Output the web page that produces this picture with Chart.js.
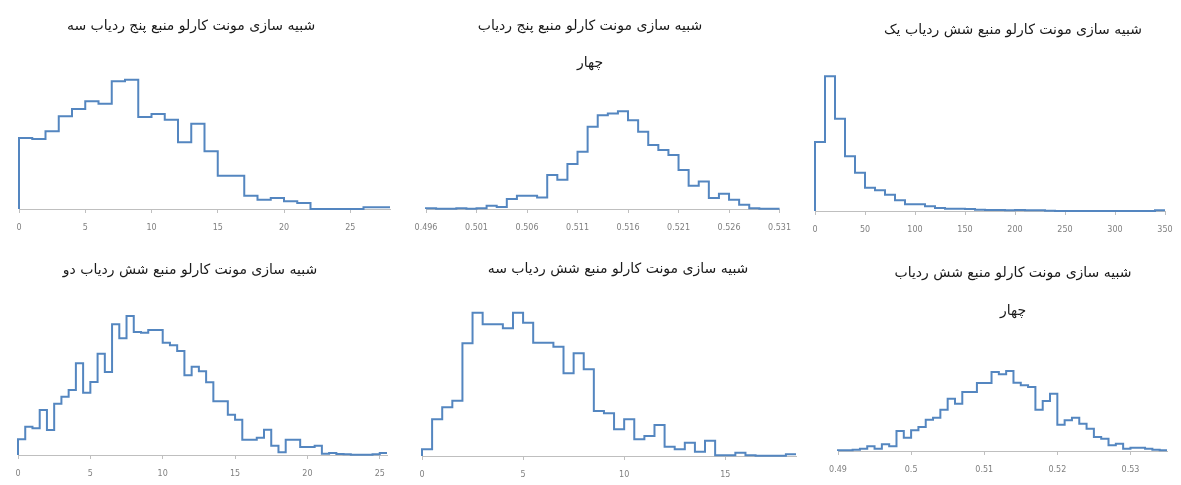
<!DOCTYPE html>
<html lang="fa">
<head>
<meta charset="utf-8">
<script src="https://cdn.jsdelivr.net/npm/chart.js@4.4.0/dist/chart.umd.min.js"></script>
<style>
  html, body { margin: 0; padding: 0; background: #fff; }
  body { width: 1181px; height: 485px; position: relative; overflow: hidden; }
  canvas { position: absolute; }
</style>
</head>
<body>
<script>
// ---- titles ----
const titleS5D3 = 'شبیه سازی مونت کارلو منبع پنج ردیاب سه';
const titleS5D4 = ['شبیه سازی مونت کارلو منبع پنج ردیاب', 'چهار'];
const titleS6D1 = 'شبیه سازی مونت کارلو منبع شش ردیاب یک';
const titleS6D2 = 'شبیه سازی مونت کارلو منبع شش ردیاب دو';
const titleS6D3 = 'شبیه سازی مونت کارلو منبع شش ردیاب سه';
const titleS6D4 = ['شبیه سازی مونت کارلو منبع شش ردیاب', 'چهار'];

// ---- histogram bins (first edge, bin width, counts) ----
const s5d3Start = 0, s5d3Width = 1;
const s5d3Counts = [213, 210, 233, 278, 300, 323, 316, 383, 388, 276, 285, 268, 200, 256,
  173, 100, 100, 40, 28, 33, 23, 18, 0, 0, 0, 0, 5, 5];
const s5d3Ticks = [0, 5, 10, 15, 20, 25];
const s5d3TickLabels = ['0', '5', '10', '15', '20', '25'];

const s5d4Start = 0.496, s5d4Width = 0.001;
const s5d4Counts = [2, 1, 1, 2, 1, 2, 10, 6, 30, 40, 40, 35, 103, 88, 136, 173, 248, 283,
  288, 295, 268, 233, 193, 178, 163, 118, 70, 83, 33, 46, 28, 13, 2, 1, 1];
const s5d4Ticks = [0.496, 0.501, 0.506, 0.511, 0.516, 0.521, 0.526, 0.531];
const s5d4TickLabels = ['0.496', '0.501', '0.506', '0.511', '0.516', '0.521', '0.526', '0.531'];

const s6d1Start = 0, s6d1Width = 10;
const s6d1Counts = [207, 404, 277, 164, 115, 70, 62, 49, 32, 20, 20, 14, 9, 7, 7, 6, 4, 3,
  3, 2, 3, 2, 2, 1, 0, 0, 0, 0, 0, 0, 0, 0, 0, 0, 2];
const s6d1Ticks = [0, 50, 100, 150, 200, 250, 300, 350];
const s6d1TickLabels = ['0', '50', '100', '150', '200', '250', '300', '350'];

const s6d2Start = 0, s6d2Width = 0.5;
const s6d2Counts = [47, 85, 80, 135, 75, 154, 175, 195, 275, 187, 219, 304, 249, 392, 350,
  417, 369, 367, 375, 375, 337, 329, 312, 239, 265, 251, 218, 161, 161, 121, 106, 46, 46,
  52, 76, 28, 8, 46, 46, 24, 24, 28, 4, 6, 3, 2, 1, 1, 1, 2, 6];
const s6d2Ticks = [0, 5, 10, 15, 20, 25];
const s6d2TickLabels = ['0', '5', '10', '15', '20', '25'];

const s6d3Start = 0, s6d3Width = 0.5;
const s6d3Counts = [20, 110, 146, 166, 338, 430, 395, 395, 383, 430, 400, 340, 340, 328,
  248, 308, 260, 135, 128, 80, 110, 50, 60, 93, 28, 20, 40, 13, 46, 2, 2, 10, 2, 1, 1, 1, 5];
const s6d3Ticks = [0, 5, 10, 15];
const s6d3TickLabels = ['0', '5', '10', '15'];

const s6d4Start = 0.49, s6d4Width = 0.001;
const s6d4Counts = [2, 2, 4, 7, 14, 7, 20, 14, 60, 40, 62, 72, 94, 100, 124, 157, 142, 177,
  177, 204, 204, 237, 230, 240, 205, 197, 192, 124, 150, 172, 79, 92, 100, 82, 67, 42, 37,
  17, 22, 7, 10, 10, 7, 4, 2];
const s6d4Ticks = [0.49, 0.5, 0.51, 0.52, 0.53];
const s6d4TickLabels = ['0.49', '0.5', '0.51', '0.52', '0.53'];

const LINE_COLOR = '#5486c0';
const AXIS_COLOR = '#bfbfbf';
const FONT = "'DejaVu Sans', sans-serif";

// outline of a histogram: corner points walked from the bin edges
function outline(start, width, counts) {
    const pts = [{ x: start, y: 0 }];
    counts.forEach((c, i) => {
        pts.push({ x: start + width * i, y: c });
        pts.push({ x: start + width * (i + 1), y: c });
    });
    return pts;
}

// panel placement in the page (px)
const panels = [
    { title: titleS5D3, start: s5d3Start, width: s5d3Width, counts: s5d3Counts, ticks: s5d3Ticks, labels: s5d3TickLabels,
      left: 19, right: 390, top: 69, base: 209, yMax: 420, titleY: 26, lh: 20, titleX: 191 },
    { title: titleS5D4, start: s5d4Start, width: s5d4Width, counts: s5d4Counts, ticks: s5d4Ticks, labels: s5d4TickLabels,
      left: 426, right: 781, top: 76, base: 209, yMax: 400, titleY: 26, lh: 37, titleX: 590 },
    { title: titleS6D1, start: s6d1Start, width: s6d1Width, counts: s6d1Counts, ticks: s6d1Ticks, labels: s6d1TickLabels,
      left: 815, right: 1165, top: 61, base: 211, yMax: 450, titleY: 30, lh: 20, titleX: 1013 },
    { title: titleS6D2, start: s6d2Start, width: s6d2Width, counts: s6d2Counts, ticks: s6d2Ticks, labels: s6d2TickLabels,
      left: 18, right: 387, top: 305, base: 455, yMax: 450, titleY: 270, lh: 20, titleX: 190 },
    { title: titleS6D3, start: s6d3Start, width: s6d3Width, counts: s6d3Counts, ticks: s6d3Ticks, labels: s6d3TickLabels,
      left: 422, right: 796, top: 303, base: 456, yMax: 459, titleY: 269, lh: 20, titleX: 618 },
    { title: titleS6D4, start: s6d4Start, width: s6d4Width, counts: s6d4Counts, ticks: s6d4Ticks, labels: s6d4TickLabels,
      left: 838, right: 1167, top: 324, base: 451, yMax: 381, titleY: 273, lh: 38, titleX: 1013 }
];

function drawPanel(p) {
    const pad = 20, padTop = 2, axisH = 30;
    const shift = p.titleX - (p.left + p.right) / 2;
    const sideW = Math.round(Math.abs(shift) * 2);
    const lines = Array.isArray(p.title) ? p.title.length : 1;

    const cLeft = p.left - pad - (shift < 0 ? sideW : 0);
    const cWidth = (p.right - p.left) + 2 * pad + sideW;
    const cTop = p.titleY - padTop - p.lh / 2;
    const cHeight = p.base + axisH - cTop;
    const padBottom = p.top - cTop - padTop - lines * p.lh;

    const canvas = document.createElement('canvas');
    canvas.width = cWidth;
    canvas.height = cHeight;
    canvas.style.left = cLeft + 'px';
    canvas.style.top = cTop + 'px';
    canvas.style.width = cWidth + 'px';
    canvas.style.height = cHeight + 'px';
    document.body.appendChild(canvas);

    const xMax = p.start + p.width * p.counts.length;

    new Chart(canvas.getContext('2d'), {
        type: 'line',
        data: {
            datasets: [{
                data: outline(p.start, p.width, p.counts),
                borderColor: LINE_COLOR,
                borderWidth: 2,
                pointRadius: 0,
                tension: 0,
                fill: false,
                clip: false
            }]
        },
        options: {
            responsive: false,
            animation: false,
            devicePixelRatio: 1,
            layout: { autoPadding: false, padding: { left: pad, right: pad, top: 0, bottom: 0 } },
            plugins: {
                legend: { display: false },
                tooltip: { enabled: false },
                title: {
                    display: true,
                    text: p.title,
                    color: '#1a1a1a',
                    font: { family: FONT, size: 14, weight: 'normal', lineHeight: p.lh + 'px' },
                    padding: { top: padTop, bottom: padBottom }
                }
            },
            scales: {
                x: {
                    type: 'linear',
                    min: p.start,
                    max: xMax,
                    afterBuildTicks: s => { s.ticks = p.ticks.map(v => ({ value: v })); },
                    afterFit: s => { s.height = axisH; },
                    grid: { display: true, drawOnChartArea: false, drawTicks: true, tickLength: 4, color: AXIS_COLOR },
                    border: { display: true, color: AXIS_COLOR, width: 1 },
                    ticks: {
                        autoSkip: false,
                        maxRotation: 0,
                        padding: 10,
                        color: '#7f7f7f',
                        font: { family: FONT, size: 8 },
                        callback: (v, i) => p.labels[i]
                    }
                },
                y: {
                    display: true,
                    position: shift < 0 ? 'left' : 'right',
                    min: 0,
                    max: p.yMax,
                    afterFit: s => { s.width = sideW; },
                    grid: { display: false },
                    border: { display: false },
                    ticks: { display: false }
                }
            }
        }
    });
}

panels.forEach(drawPanel);
</script>
</body>
</html>
